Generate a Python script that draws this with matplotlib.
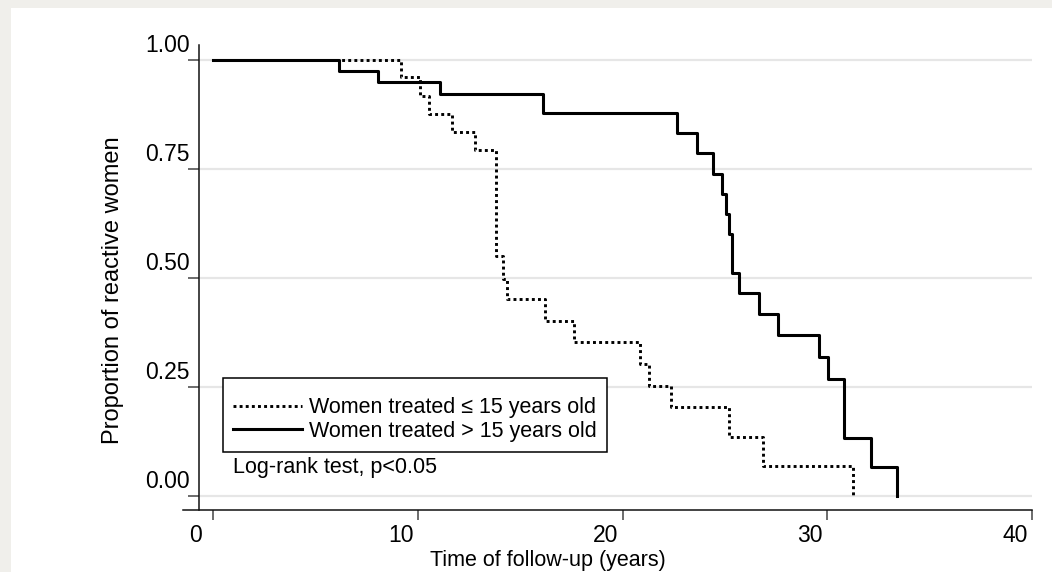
import matplotlib
matplotlib.use("Agg")
import matplotlib.pyplot as plt
from matplotlib.patches import Rectangle
from matplotlib.transforms import ScaledTranslation

# Kaplan-Meier steps (time in years, proportion after the step)
times_young = [0, 9.2, 10.1, 10.55, 11.65, 12.8, 13.8, 14.15, 14.35, 16.2, 17.65,
               20.85, 21.3, 22.35, 25.2, 26.85, 31.25]
surv_young = [1.0, 0.96, 0.917, 0.876, 0.834, 0.794, 0.55, 0.498, 0.452, 0.401, 0.353,
              0.303, 0.252, 0.203, 0.135, 0.069, 0.0]

times_old = [0, 6.15, 8.07, 11.07, 16.1, 22.67, 23.64, 24.4, 24.86, 25.06, 25.22,
             25.33, 25.67, 26.65, 27.58, 29.61, 30.06, 30.83, 32.16, 33.43]
surv_old = [1.0, 0.975, 0.95, 0.922, 0.878, 0.832, 0.786, 0.739, 0.693, 0.647, 0.600,
            0.511, 0.465, 0.417, 0.369, 0.318, 0.268, 0.134, 0.067, 0.0]

label_young = "Women treated \u2264 15 years old"
label_old = "Women treated > 15 years old"

xticks = [0, 10, 20, 30, 40]
yticks = [0.0, 0.25, 0.5, 0.75, 1.0]
ytick_labels = ["0.00", "0.25", "0.50", "0.75", "1.00"]

plt.rcParams["font.family"] = ["Liberation Sans", "DejaVu Sans"]

W, H = 1052, 572
fig = plt.figure(figsize=(W / 100, H / 100), dpi=100, facecolor="#f0efeb")
fig.patches.append(Rectangle((11 / W, 0), 1, 1 - 8 / H, transform=fig.transFigure,
                             facecolor="white", edgecolor="none", zorder=-10))

ax = fig.add_axes([183 / W, 1 - 510 / H, 849 / W, 465 / H])
ax.set_facecolor("white")

px_x = 20.475   # pixels per year
px_y = 436.0    # pixels per unit proportion
left_spine = -14 / px_x
ax.set_xlim(-30 / px_x, 40)
ax.set_ylim(-14 / px_y, 1 + 15 / px_y)

ax.hlines(yticks, left_spine, 40, color="#e6e6e6", lw=1.6, zorder=0)

ax.step(times_young, surv_young, where="post", color="black", lw=2.1,
        linestyle=(0, (1, 1.1)), label=label_young, zorder=3)
ax.step(times_old, surv_old, where="post", color="black", lw=2.2,
        label=label_old, zorder=2)

for s in ["top", "right"]:
    ax.spines[s].set_visible(False)
ax.spines["left"].set_position(("data", left_spine))
for s in ["left", "bottom"]:
    ax.spines[s].set_linewidth(1.1)
    ax.spines[s].set_color("#111111")

ax.set_xticks(xticks)
ax.set_yticks(yticks)
ax.set_yticklabels(ytick_labels)
ax.tick_params(axis="x", direction="out", length=7.2, width=1.1, color="#444444",
               labelsize=16.5, pad=3)
ax.tick_params(axis="y", direction="out", length=8, width=1.1, color="#444444",
               labelsize=16.5, pad=-1.5)

for lab in ax.get_yticklabels():
    lab.set_transform(lab.get_transform() + ScaledTranslation(0, 17 / 100, fig.dpi_scale_trans))
for lab in ax.get_xticklabels():
    lab.set_transform(lab.get_transform() + ScaledTranslation(-17 / 100, 0, fig.dpi_scale_trans))

ax.set_xlabel("Time of follow-up (years)", fontsize=15.5)
ax.xaxis.set_label_coords((548 - 183) / 849, (510 - 550) / 465)
ax.set_ylabel("Proportion of reactive women", fontsize=17)
ax.yaxis.set_label_coords((124 - 183) / 849, (510 - 290) / 465)

leg = ax.legend(loc="upper left", bbox_to_anchor=((223 - 183) / 849, (510 - 378) / 465),
                fontsize=15.5, frameon=True, fancybox=False, edgecolor="black",
                framealpha=1, handlelength=3.2, handletextpad=0.35, borderpad=0.45,
                labelspacing=0.12, borderaxespad=0, title=" ", title_fontsize=6)
leg.get_frame().set_linewidth(1.1)

ax.text((233 - 183) / 849, (510 - 468) / 465, "Log-rank test, p<0.05",
        transform=ax.transAxes, fontsize=15.5, ha="left", va="center")

fig.savefig("out.png", dpi=100, facecolor=fig.get_facecolor())
